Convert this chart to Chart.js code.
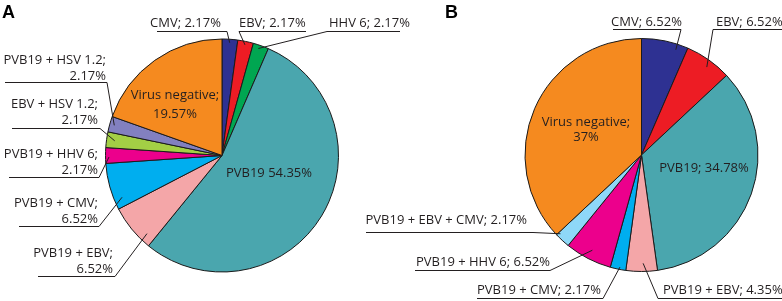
<!DOCTYPE html>
<html>
<head>
<meta charset="utf-8">
<script src="https://cdn.jsdelivr.net/npm/chart.js@4"></script>
<style>
html,body{margin:0;padding:0;background:#fff;}
#wrap{position:relative;width:782px;height:301px;overflow:hidden;}
canvas{position:absolute;left:0;top:0;}
</style>
</head>
<body>
<div id="wrap">
<canvas id="cA" width="782" height="301"></canvas>
<canvas id="cB" width="782" height="301"></canvas>
</div>
<script>
// ---- data ----
const categoriesA = ['CMV','EBV','HHV 6','PVB19','PVB19 + EBV','PVB19 + CMV','PVB19 + HHV 6','EBV + HSV 1.2','PVB19 + HSV 1.2','Virus negative'];
const valuesA = [2.17, 2.17, 2.17, 54.35, 6.52, 6.52, 2.17, 2.17, 2.17, 19.57];
const colorsA = ['#2e3192','#ed1c24','#00a651','#4aa6ae','#f4a6a8','#00aeef','#ec008c','#a3cf45','#8280c0','#f58a1f'];

const categoriesB = ['CMV','EBV','PVB19','PVB19 + EBV','PVB19 + CMV','PVB19 + HHV 6','PVB19 + EBV + CMV','Virus negative'];
const valuesB = [6.52, 6.52, 34.78, 4.35, 2.17, 6.52, 2.17, 37];
const colorsB = ['#2e3192','#ed1c24','#4aa6ae','#f4a6a8','#00aeef','#ec008c','#8ed8f8','#f58a1f'];

// ---- label layout (positions only) ----
// fmt: 'one' -> "name; v%" ; 'two' -> ["name;", "v%"] ; 'nosemi' -> "name v%"
const layoutA = [
  {fmt:'one', align:'left', x:150, y:23, ul:[157,227,31], from:'right', t:0.5, r:0.97},
  {fmt:'one', align:'left', x:239, y:23, ul:[239,306,31], from:'left', t:0.5, r:0.97},
  {fmt:'one', align:'left', x:329, y:23, ul:[327,400,31], from:'left', t:0.4, r:0.97},
  {fmt:'nosemi', align:'center', x:269, y:173},
  {fmt:'two', align:'right', x:113, y:253, ul:[38,115,276], from:'right', t:0.2, r:0.93},
  {fmt:'two', align:'right', x:98, y:203, ul:[19,99,226], from:'right', t:0.2, r:0.93},
  {fmt:'two', align:'right', x:98, y:154, ul:[9,99,177], from:'right', t:0.4, r:0.97},
  {fmt:'two', align:'right', x:98, y:104, ul:[12,100,128], from:'right', t:0.5, r:0.93},
  {fmt:'two', align:'right', x:106, y:60, ul:[5,107,82], from:'right', t:0.5, r:0.96},
  {fmt:'two', align:'center', x:175, y:95, gap:19}
];
const layoutB = [
  {fmt:'one', align:'left', x:611, y:22, ul:[613,681,29], from:'right', t:0.77, r:0.95},
  {fmt:'one', align:'left', x:716, y:22, ul:[713,782,29], from:'left', t:0.56, r:0.94},
  {fmt:'one', align:'center', x:704, y:168},
  {fmt:'one', align:'left', x:663, y:290, ul:[658,782,298], from:'left', t:0.45, r:0.93},
  {fmt:'one', align:'left', x:477, y:290, ul:[477,603,298], from:'right', t:0.4, r:0.98},
  {fmt:'one', align:'left', x:416, y:262, ul:[415,550,270], from:'right', t:0.5, r:0.92},
  {fmt:'one', align:'right', x:527, y:220, ul:[366,533,232], from:'right', t:0.87, r:0.97},
  {fmt:'two', align:'center', x:586, y:122, gap:15}
];

const FONT = '13px "Open Sans", "Noto Sans", sans-serif';
const INK = '#231f20';

function linesFor(name, v, fmt){
  const vs = v + '%';
  if (fmt === 'two') return [name + ';', vs];
  if (fmt === 'nosemi') return [name + ' ' + vs];
  return [name + '; ' + vs];
}

function makeLabelPlugin(cats, vals, layout, title, titleX){
  return {
    id: 'labels',
    afterDraw(chart){
      const ctx = chart.ctx;
      const arcs = chart.getDatasetMeta(0).data;
      ctx.save();
      ctx.font = 'bold 18px "Liberation Sans", Arial, sans-serif';
      ctx.fillStyle = '#000';
      ctx.textBaseline = 'alphabetic';
      ctx.textAlign = 'left';
      ctx.fillText(title, titleX, 18);
      ctx.font = FONT;
      ctx.fillStyle = INK;
      ctx.strokeStyle = INK;
      ctx.lineWidth = 1;
      ctx.textBaseline = 'middle';
      layout.forEach((L, i) => {
        const lines = linesFor(cats[i], vals[i], L.fmt);
        const gap = L.gap || 16;
        ctx.textAlign = L.align;
        lines.forEach((s, k) => ctx.fillText(s, L.x, L.y + k * gap));
        if (L.ul) {
          const a = arcs[i];
          const ang = a.startAngle + L.t * (a.endAngle - a.startAngle);
          const rr = a.outerRadius * L.r;
          const px = a.x + Math.cos(ang) * rr;
          const py = a.y + Math.sin(ang) * rr;
          const [x1, x2, uy] = L.ul;
          const sx = L.from === 'left' ? x1 : x2;
          ctx.beginPath();
          ctx.moveTo(x1, uy + 0.5);
          ctx.lineTo(x2, uy + 0.5);
          ctx.stroke();
          ctx.beginPath();
          ctx.moveTo(sx, uy + 0.5);
          ctx.lineTo(px, py);
          ctx.stroke();
        }
      });
      ctx.restore();
    }
  };
}

function makePie(id, cats, vals, cols, layout, cx, cy, R, title, titleX){
  const half = R + 4;
  new Chart(document.getElementById(id), {
    type: 'pie',
    data: {
      labels: cats,
      datasets: [{
        data: vals,
        backgroundColor: cols,
        borderColor: '#1a1a1a',
        borderWidth: 1
      }]
    },
    options: {
      responsive: false,
      animation: false,
      devicePixelRatio: 1,
      radius: R,
      layout: { padding: { left: cx - half, right: 782 - cx - half, top: cy - half, bottom: 301 - cy - half } },
      plugins: { legend: { display: false }, tooltip: { enabled: false } },
      events: []
    },
    plugins: [makeLabelPlugin(cats, vals, layout, title, titleX)]
  });
}

makePie('cA', categoriesA, valuesA, colorsA, layoutA, 222, 155.5, 116.5, 'A', 2);
makePie('cB', categoriesB, valuesB, colorsB, layoutB, 641.5, 155, 116.5, 'B', 445);
</script>
</body>
</html>
